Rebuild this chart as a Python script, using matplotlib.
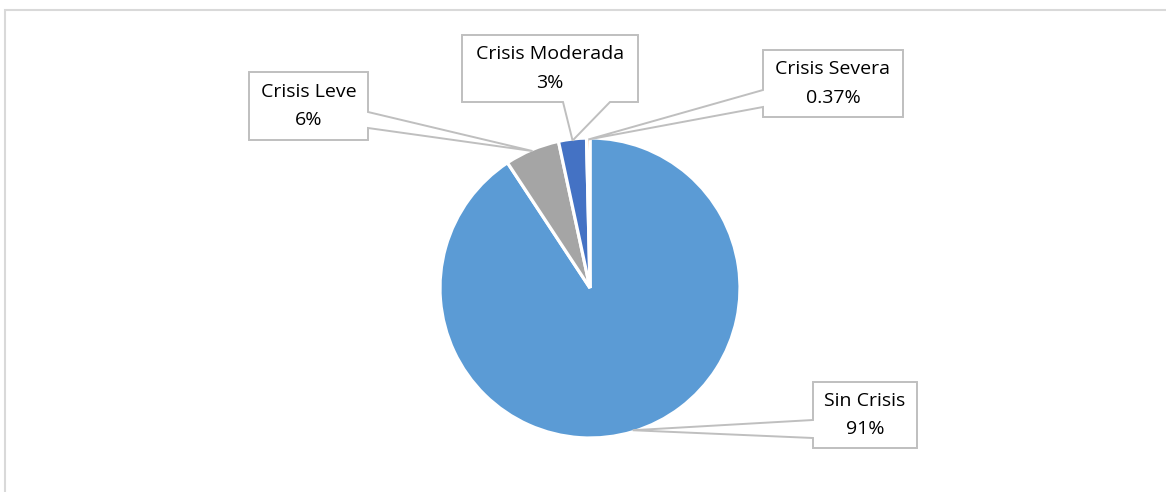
import matplotlib
matplotlib.use("Agg")
import matplotlib.pyplot as plt
import numpy as np
from matplotlib.patches import Polygon, Rectangle

# ---- data ----
categories = ["Sin Crisis", "Crisis Leve", "Crisis Moderada", "Crisis Severa"]
values = [90.7, 5.9, 3.0, 0.37]
pct_labels = ["91%", "6%", "3%", "0.37%"]
colors = ["#5B9BD5", "#A5A5A5", "#4472C4", "#ED7D31"]

W, H = 1166, 492
CX, CY, R = 590, 288, 150   # pie centre / radius in pixels (layout)

fig = plt.figure(figsize=(W / 100, H / 100), dpi=100)
ax = fig.add_axes([0, 0, 1, 1])
ax.axis("off")

def d(px, py):
    return ((px - CX) / R, (CY - py) / R)

wedges, _ = ax.pie(values, colors=colors, startangle=90, counterclock=False,
                   radius=1.0, center=(0, 0),
                   wedgeprops=dict(edgecolor="white", linewidth=2.3))
ax.set_aspect("auto")
ax.set_xlim(-CX / R, (W - CX) / R)
ax.set_ylim(-(H - CY) / R, CY / R)

# callout boxes (pixel layout): left, top, right, bottom, side, base1, base2
boxes = {
    "Sin Crisis": (813, 382, 917, 448, "left", 420, 438),
    "Crisis Leve": (249, 72, 368, 140, "right", 112, 128),
    "Crisis Moderada": (462, 35, 638, 102, "bottom", 563, 610),
    "Crisis Severa": (763, 50, 903, 117, "left", 90, 107),
}

edge = "#BFBFBF"
for w, cat, pl in zip(wedges, categories, pct_labels):
    mid = np.deg2rad((w.theta1 + w.theta2) / 2)
    tip = (np.cos(mid) * 0.99, np.sin(mid) * 0.99)
    l, t, r, b, side, b1, b2 = boxes[cat]
    if side == "right":
        pts = [d(l, t), d(r, t), d(r, b1), tip, d(r, b2), d(r, b), d(l, b)]
    elif side == "left":
        pts = [d(l, t), d(r, t), d(r, b), d(l, b), d(l, b2), tip, d(l, b1)]
    else:  # bottom
        pts = [d(l, t), d(r, t), d(r, b), d(b2, b), tip, d(b1, b), d(l, b)]
    ax.add_patch(Polygon(pts, closed=True, facecolor="white", edgecolor=edge,
                         linewidth=1.4, zorder=5))
    xc, yc = d((l + r) / 2, (t + b) / 2)
    ax.text(xc, yc, f"{cat}\n{pl}", ha="center", va="center", fontsize=14,
            family="Open Sans", color="#000000", linespacing=1.75, zorder=6)

# chart border
fig.patches.append(Rectangle((5 / W, -0.1), 1.2, 1 - 10 / H + 0.1,
                             transform=fig.transFigure, fill=False,
                             edgecolor="#D9D9D9", linewidth=1.5))

fig.savefig("out.png", dpi=100, facecolor="white")
